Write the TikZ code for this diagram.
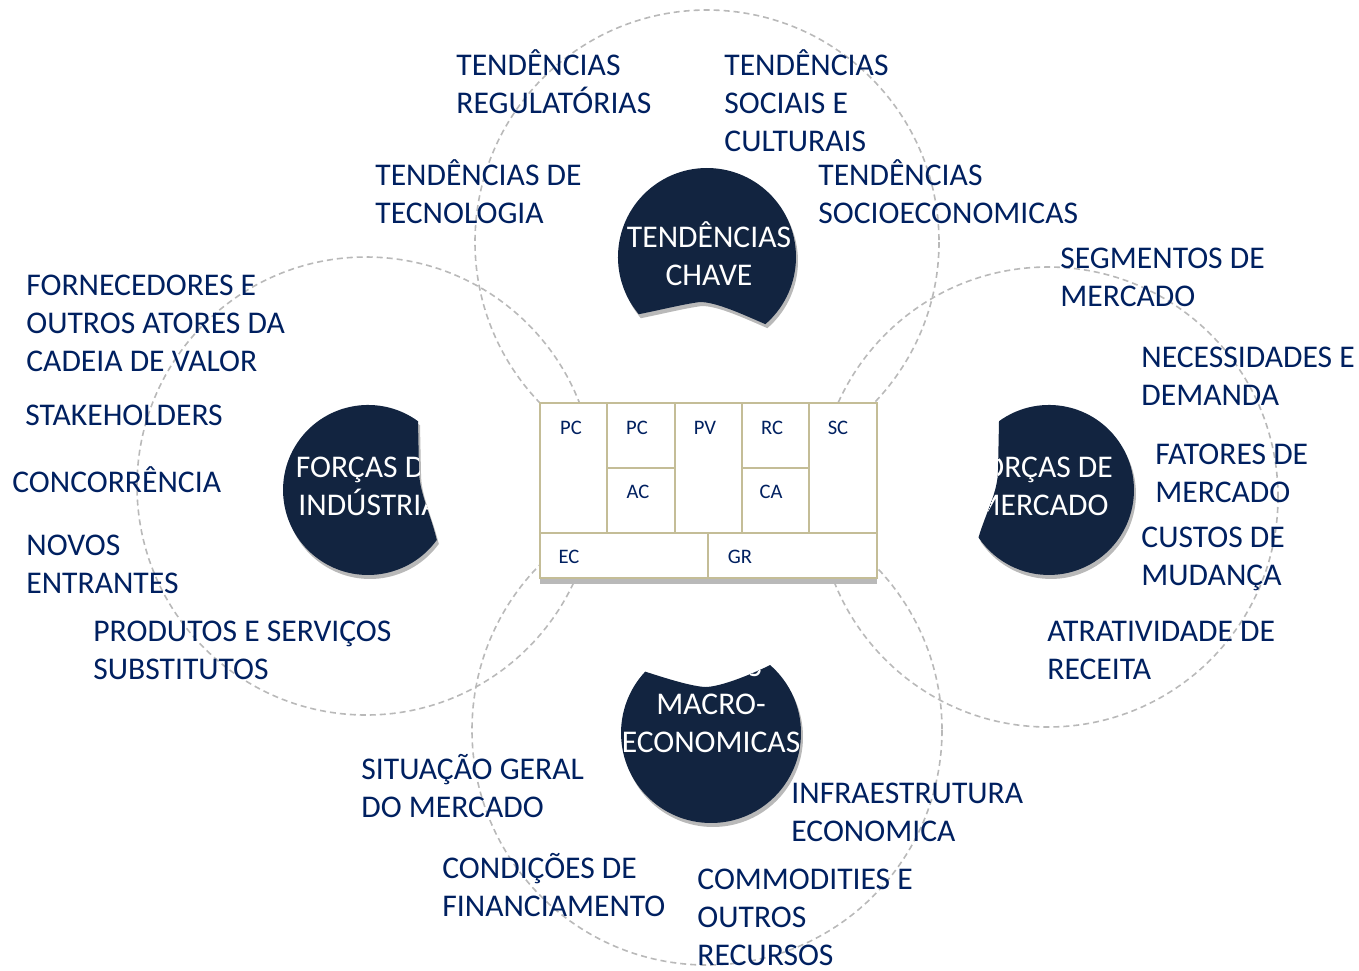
\documentclass[tikz,border=0pt]{standalone}
\usepackage{fontspec}
\setmainfont{Carlito}
\usepackage{tikz}
\usepackage{xcolor}
\definecolor{bmnavy}{RGB}{18,36,64}
\definecolor{bmtext}{RGB}{0,32,96}
\definecolor{bmtan}{RGB}{196,189,151}

\begin{document}
\begin{tikzpicture}
  [x=0.5pt,y=-0.5pt,
   lbl/.style={anchor=west,align=left,inner sep=0pt,text=bmtext,font=\fontsize{15.8}{19}\selectfont},
   btxt/.style={align=center,inner sep=0pt,text=white,font=\fontsize{15.8}{19}\selectfont},
   cl/.style={inner sep=0pt,text=bmtext,font=\fontsize{10.3}{12}\selectfont},
   ring/.style={draw=gray!55,line width=0.8pt,dash pattern=on 3pt off 2pt},
   blob/.style={fill=bmnavy},
   bshadow/.style={fill=gray!55,shift={(2,4)}},
   cell/.style={draw=bmtan,line width=1.3pt}]
  \useasboundingbox (0,0) rectangle (1359,970);

  % blob outlines
  \def\bone{(638.8,314.2) arc[start angle=140,end angle=409,radius=89]
    .. controls (742,314) and (716,302) .. (700,302)
    .. controls (684,304) and (660,310) .. cycle}
  \def\btwo{(418,421.2) arc[start angle=-54,end angle=-324,radius=85]
    .. controls (430,512) and (419,492) .. (419,470) -- cycle}
  \def\bthree{(999,421.2) arc[start angle=234,end angle=506,radius=85]
    .. controls (986,512) and (998,492) .. (998,470) -- cycle}
  \def\bfour{(645.2,671.6) arc[start angle=223,end angle=-49,radius=90]
    .. controls (750,675) and (720,687) .. (705,687)
    .. controls (690,686) and (665,678) .. cycle}

  \draw[ring] (707,242) circle (232);
  \draw[ring] (366,486) circle (229);
  \draw[ring] (1048,497) circle (230);
  \draw[ring] (707,730) circle (235);

  % canvas
  \fill[gray!55] (540,578) rectangle (877,584);
  \fill[white] (540,403) rectangle (877,578);
  \draw[cell] (540,403) rectangle (877,578);
  \foreach \x in {607,675,742,809}
    \draw[cell] (\x,403) -- (\x,533);
  \draw[cell] (540,533) -- (877,533);
  \draw[cell] (708,533) -- (708,578);
  \draw[cell] (607,468) -- (675,468);
  \draw[cell] (742,468) -- (809,468);
  \foreach \t/\x/\y [count=\i] in {PC/571/428,PC/637/428,PV/705/428,RC/772/428,SC/838/428,
                                   AC/638/492,CA/771/492,EC/569/557,GR/740/557}
    \node[cl] (c\i) at (\x,\y) {\t};

  % blobs
  \fill[bshadow] \bone;
  \fill[blob] \bone;
  \begin{scope}
    \clip \bone;
    \node[btxt] (b1) at (709,254) {TENDÊNCIAS\\CHAVE};
  \end{scope}
  \fill[bshadow] \btwo;
  \fill[blob] \btwo;
  \begin{scope}
    \clip \btwo;
    \node[btxt] (b2) at (369,486) {FORÇAS DA\\INDÚSTRIA};
  \end{scope}
  \fill[bshadow] \bthree;
  \fill[blob] \bthree;
  \begin{scope}
    \clip \bthree;
    \node[btxt] (b3) at (1041,486) {FORÇAS DE\\MERCADO};
  \end{scope}
  \fill[bshadow] \bfour;
  \fill[blob] \bfour;
  \begin{scope}
    \clip \bfour;
    \node[btxt] (b4) at (711,704) {FORÇAS\\MACRO-\\ECONOMICAS};
  \end{scope}

  % labels
  \node[lbl] (l1) at (456,82) {TENDÊNCIAS\\REGULATÓRIAS};
  \node[lbl] (l2) at (724,101) {TENDÊNCIAS\\SOCIAIS E\\CULTURAIS};
  \node[lbl] (l3) at (375,192) {TENDÊNCIAS DE\\TECNOLOGIA};
  \node[lbl] (l4) at (818,192) {TENDÊNCIAS\\SOCIOECONOMICAS};
  \node[lbl] (l5) at (1060,277) {SEGMENTOS DE\\MERCADO};
  \node[lbl] (l6) at (1141,376) {NECESSIDADES E\\DEMANDA};
  \node[lbl] (l7) at (1155,473) {FATORES DE\\MERCADO};
  \node[lbl] (l8) at (1141,559) {CUSTOS DE\\MUDANÇA};
  \node[lbl] (l9) at (1047,650) {ATRATIVIDADE DE\\RECEITA};
  \node[lbl] (l10) at (26,323) {FORNECEDORES E\\OUTROS ATORES DA\\CADEIA DE VALOR};
  \node[lbl] (l11) at (25,415) {STAKEHOLDERS};
  \node[lbl] (l12) at (12,480) {CONCORRÊNCIA};
  \node[lbl] (l13) at (26,564) {NOVOS\\ENTRANTES};
  \node[lbl] (l14) at (93,650) {PRODUTOS E SERVIÇOS\\SUBSTITUTOS};
  \node[lbl] (l15) at (361,786) {SITUAÇÃO GERAL\\DO MERCADO};
  \node[lbl] (l16) at (442,885) {CONDIÇÕES DE\\FINANCIAMENTO};
  \node[lbl] (l17) at (791,812) {INFRAESTRUTURA\\ECONOMICA};
  \node[lbl] (l18) at (697,917) {COMMODITIES E\\OUTROS\\RECURSOS};
\end{tikzpicture}
\end{document}
